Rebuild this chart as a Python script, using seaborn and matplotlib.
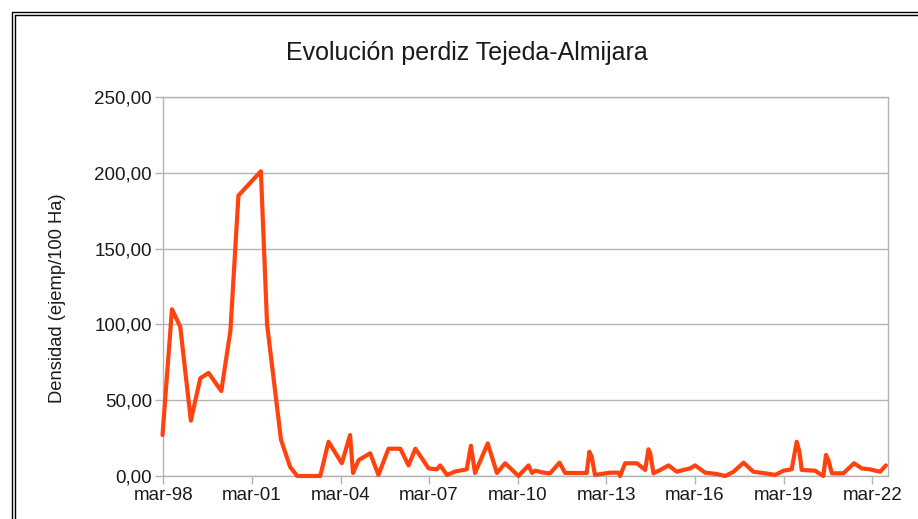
import matplotlib
matplotlib.use("Agg")
import matplotlib.pyplot as plt
import seaborn as sns
import pandas as pd
from matplotlib.lines import Line2D

# Fecha (años decimales) y densidad (ejemp/100 Ha)
fecha = [1998.14, 1998.46, 1998.74, 1999.10, 1999.42, 1999.70, 2000.13, 2000.44,
         2000.71, 2001.47, 2001.68, 2002.15, 2002.46, 2002.70, 2003.48, 2003.76,
         2004.21, 2004.49, 2004.59, 2004.78, 2005.17, 2005.45, 2005.79, 2006.19,
         2006.47, 2006.70, 2007.15, 2007.43, 2007.54, 2007.77, 2008.05, 2008.44,
         2008.58, 2008.72, 2009.15, 2009.46, 2009.74, 2010.19, 2010.53, 2010.65,
         2010.76, 2011.04, 2011.26, 2011.58, 2011.77, 2012.17, 2012.50, 2012.59,
         2012.67, 2012.78, 2013.29, 2013.57, 2013.63, 2013.80, 2014.20, 2014.48,
         2014.59, 2014.65, 2014.76, 2014.99, 2015.27, 2015.55, 2015.77, 2016.00,
         2016.17, 2016.51, 2016.91, 2017.19, 2017.47, 2017.81, 2018.14, 2018.54,
         2018.88, 2019.16, 2019.44, 2019.61, 2019.70, 2019.78, 2020.23, 2020.51,
         2020.60, 2020.68, 2020.80, 2021.19, 2021.55, 2021.81, 2022.09, 2022.43,
         2022.63]
densidad = [27.0, 110.0, 98.5, 36.5, 64.5, 68.0, 56.0, 96.0,
            185.0, 201.0, 100.0, 24.0, 6.0, 0.0, 0.0, 22.6,
            8.4, 27.0, 2.0, 10.5, 15.0, 0.7, 18.0, 18.0,
            7.0, 18.0, 5.0, 4.4, 7.0, 0.7, 3.0, 4.4,
            20.0, 2.0, 21.5, 2.0, 8.4, 0.0, 7.0, 2.0,
            3.5, 2.2, 1.8, 8.8, 2.0, 2.0, 2.0, 16.0,
            12.7, 0.7, 2.2, 2.2, 0.0, 8.4, 8.4, 4.0,
            17.6, 15.0, 1.8, 4.0, 7.0, 2.8, 4.0, 5.0,
            7.0, 2.2, 1.3, 0.0, 2.8, 8.8, 2.8, 1.8,
            0.7, 3.5, 4.4, 22.6, 16.0, 4.0, 3.5, 0.0,
            13.9, 10.5, 1.8, 1.8, 8.4, 5.0, 4.4, 2.8,
            7.0]

tick_years = [1998, 2001, 2004, 2007, 2010, 2013, 2016, 2019, 2022]
tick_labels = ["mar-98", "mar-01", "mar-04", "mar-07", "mar-10",
               "mar-13", "mar-16", "mar-19", "mar-22"]
y_ticks = [0, 50, 100, 150, 200, 250]
y_labels = ["0,00", "50,00", "100,00", "150,00", "200,00", "250,00"]

sns.set_theme(style="white")
plt.rcParams["font.family"] = ["Liberation Sans", "DejaVu Sans"]

df = pd.DataFrame({"fecha": fecha, "densidad": densidad})

fig = plt.figure(figsize=(9.18, 5.19), dpi=100)
ax = fig.add_axes([163/918, 1-476/519, (888-163)/918, (476-97)/519])

sns.lineplot(data=df, x="fecha", y="densidad", ax=ax, color="#ff420e",
             linewidth=3.0, sort=False, estimator=None, clip_on=False, zorder=3)

ax.set_xlim(1998 + 2/12 - 0.01, 2022.7)
ax.set_ylim(0, 250)
ax.set_yticks(y_ticks)
ax.set_yticklabels(y_labels, fontsize=13.5, color="#1a1a1a")
ax.set_xticks([y + 2/12 for y in tick_years])
ax.set_xticklabels(tick_labels, fontsize=13.5, color="#1a1a1a")
ax.grid(axis="y", color="#b3b3b3", linewidth=1.0)
ax.grid(axis="x", visible=False)
for s in ax.spines.values():
    s.set_color("#b3b3b3")
    s.set_linewidth(1.0)
ax.tick_params(axis="both", which="major", length=6, width=1.0, color="#b3b3b3",
               direction="out", pad=2, bottom=True, left=True)
ax.set_xlabel("")
ax.set_ylabel("Densidad (ejemp/100 Ha)", fontsize=13.2, color="#1a1a1a")
ax.yaxis.set_label_coords((66-163)/725, (476-298)/379)

fig.text(467/918, 1-53/519, "Evolución perdiz Tejeda-Almijara", ha="center",
         va="center", fontsize=18, color="#1a1a1a")

# marco doble
for off in (12, 15):
    fig.add_artist(Line2D([off/918, off/918], [1-off/519, -0.1], transform=fig.transFigure,
                          color="black", linewidth=1.0))
    fig.add_artist(Line2D([off/918, 1.1], [1-off/519, 1-off/519], transform=fig.transFigure,
                          color="black", linewidth=1.0))

fig.savefig("out.png", dpi=100)
